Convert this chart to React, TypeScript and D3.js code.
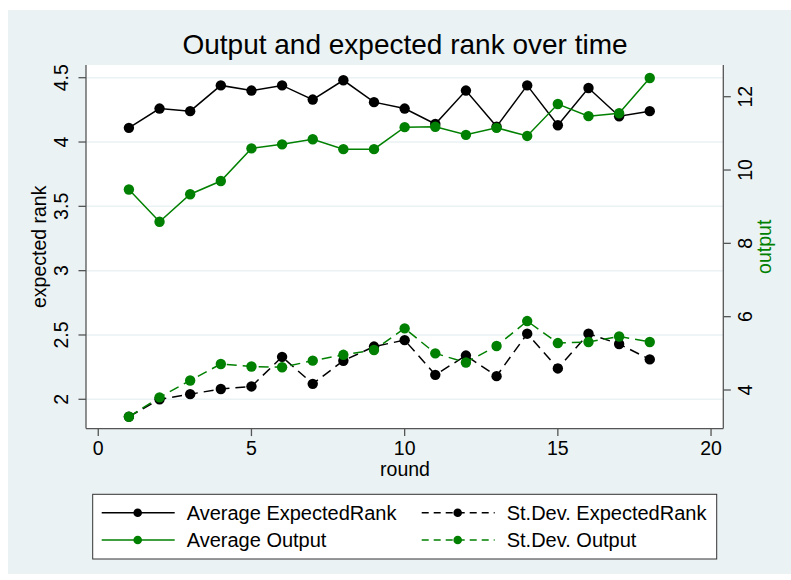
import * as d3 from "d3";

// rounds on the x axis
const rounds = [1, 2, 3, 4, 5, 6, 7, 8, 9, 10, 11, 12, 13, 14, 15, 16, 17, 18];

// left axis (expected rank)
const avgRank = [4.11, 4.26, 4.24, 4.44, 4.4, 4.44, 4.33, 4.48, 4.31, 4.26, 4.14, 4.4, 4.12, 4.44, 4.13, 4.42, 4.2, 4.24];
const sdRank = [1.865, 2.0, 2.04, 2.08, 2.1, 2.33, 2.12, 2.3, 2.41, 2.46, 2.19, 2.34, 2.18, 2.51, 2.24, 2.51, 2.43, 2.31];

// right axis (output)
const avgOutput = [9.47, 8.59, 9.34, 9.7, 10.59, 10.7, 10.84, 10.57, 10.57, 11.17, 11.18, 10.96, 11.15, 10.93, 11.8, 11.47, 11.55, 12.51];
const sdOutput = [3.27, 3.8, 4.26, 4.71, 4.64, 4.62, 4.8, 4.96, 5.09, 5.68, 5.0, 4.75, 5.2, 5.88, 5.28, 5.31, 5.46, 5.31];

const xTicks = [0, 5, 10, 15, 20];
const leftTicks = [2, 2.5, 3, 3.5, 4, 4.5];
const rightTicks = [4, 6, 8, 10, 12];

const legendItems = [
  { label: "Average ExpectedRank", color: "black", dashed: false },
  { label: "St.Dev. ExpectedRank", color: "black", dashed: true },
  { label: "Average Output", color: "#008000", dashed: false },
  { label: "St.Dev. Output", color: "#008000", dashed: true },
];

const FONT = "'Liberation Sans', Arial, sans-serif";
const BG = "#eaf2f3";
const GREEN = "#008000";
const AXIS = "#555";

const W = 791;
const H = 580;
const plot = { left: 86, right: 723.3, top: 65, bottom: 428.6 };

export default function App() {
  const x = d3.scaleLinear().domain([-0.4, 20.4]).range([plot.left, plot.right]);
  const yL = d3.scaleLinear().domain([2, 4.5]).range([399.3, 77.7]);
  const yR = d3.scaleLinear().domain([4, 12]).range([390, 96.7]);

  // drawn in stata's plot order, green on top
  const series = [
    { values: avgRank, y: yL, color: "black", dash: undefined },
    { values: sdRank, y: yL, color: "black", dash: "10 6" },
    { values: avgOutput, y: yR, color: GREEN, dash: undefined },
    { values: sdOutput, y: yR, color: GREEN, dash: "10 6" },
  ];

  const lines = series.map((s, i) => {
    const line = d3
      .line<number>()
      .x((_, j) => x(rounds[j]))
      .y((v) => s.y(v));
    return (
      <g key={i}>
        <path d={line(s.values) || ""} fill="none" stroke={s.color} strokeWidth={1.5} strokeDasharray={s.dash} />
        {s.values.map((v, j) => (
          <circle key={j} cx={x(rounds[j])} cy={s.y(v)} r={5.2} fill={s.color} />
        ))}
      </g>
    );
  });

  const legendRows = [512.7, 540];
  const legendCols = [{ lx: 101.7, tx: 186.7 }, { lx: 421.7, tx: 506.7 }];

  return (
    <svg width={W} height={H} style={{ position: "absolute", left: 0, top: 0 }} fontFamily={FONT}>
      <rect x={0} y={0} width={W} height={H} fill="white" />
      <rect x={8} y={10} width={W - 8} height={564} fill={BG} />
      <rect x={plot.left} y={plot.top} width={plot.right - plot.left} height={plot.bottom - plot.top} fill="white" />

      {/* grid */}
      {leftTicks.map((t) => (
        <line key={t} x1={plot.left} x2={plot.right} y1={yL(t)} y2={yL(t)} stroke={BG} strokeWidth={1.5} />
      ))}

      {lines}

      {/* axes */}
      <line x1={plot.left} x2={plot.left} y1={plot.top} y2={plot.bottom} stroke={AXIS} strokeWidth={1.3} />
      <line x1={plot.right} x2={plot.right} y1={plot.top} y2={plot.bottom} stroke={AXIS} strokeWidth={1.3} />
      <line x1={plot.left} x2={plot.right} y1={plot.bottom} y2={plot.bottom} stroke={AXIS} strokeWidth={1.3} />

      {leftTicks.map((t) => (
        <g key={t}>
          <line x1={plot.left - 7.5} x2={plot.left} y1={yL(t)} y2={yL(t)} stroke={AXIS} strokeWidth={1.3} />
          <text transform={`translate(68,${yL(t)}) rotate(-90)`} textAnchor="middle" fontSize={19.5}>
            {t}
          </text>
        </g>
      ))}
      {rightTicks.map((t) => (
        <g key={t}>
          <line x1={plot.right} x2={plot.right + 7.5} y1={yR(t)} y2={yR(t)} stroke={AXIS} strokeWidth={1.3} />
          <text transform={`translate(751.5,${yR(t)}) rotate(-90)`} textAnchor="middle" fontSize={19.5}>
            {t}
          </text>
        </g>
      ))}
      {xTicks.map((t) => (
        <g key={t}>
          <line x1={x(t)} x2={x(t)} y1={plot.bottom} y2={plot.bottom + 7.5} stroke={AXIS} strokeWidth={1.3} />
          <text x={x(t)} y={455} textAnchor="middle" fontSize={19.5}>
            {t}
          </text>
        </g>
      ))}

      {/* titles */}
      <text x={405} y={53.5} textAnchor="middle" fontSize={28}>
        Output and expected rank over time
      </text>
      <text x={405} y={476} textAnchor="middle" fontSize={19.5}>
        round
      </text>
      <text transform={`translate(46,${(plot.top + plot.bottom) / 2}) rotate(-90)`} textAnchor="middle" fontSize={19.5}>
        expected rank
      </text>
      <text transform={`translate(771,${(plot.top + plot.bottom) / 2}) rotate(-90)`} textAnchor="middle" fontSize={19.5} fill={GREEN}>
        output
      </text>

      {/* legend */}
      <rect x={92.7} y={494.3} width={624} height={64.7} fill="white" stroke="#333" strokeWidth={1} />
      {legendItems.map((it, i) => {
        const row = legendRows[Math.floor(i / 2)];
        const col = legendCols[i % 2];
        return (
          <g key={i}>
            <line
              x1={col.lx}
              x2={col.lx + 73}
              y1={row}
              y2={row}
              stroke={it.color}
              strokeWidth={1.5}
              strokeDasharray={it.dashed ? "7 5" : undefined}
            />
            <circle cx={col.lx + 36} cy={row} r={4.3} fill={it.color} />
            <text x={col.tx} y={row + 7} fontSize={20}>
              {it.label}
            </text>
          </g>
        );
      })}
    </svg>
  );
}
